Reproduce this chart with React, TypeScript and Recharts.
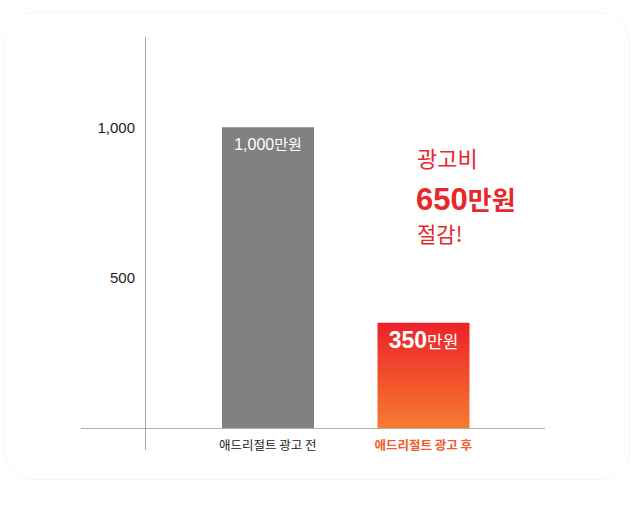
import React from 'react';
import { BarChart, Bar, XAxis, YAxis, Cell, LabelList } from 'recharts';

// 광고 전/후 비용 비교
const categories = ['애드리절트 광고 전', '애드리절트 광고 후'];
const costs = [1000, 350];
const valueLabels = ['1,000', '350'];
const yTicks = [500, 1000];
const savingLines = ['광고비', '650', '만원', '절감!'];

const data = categories.map((name, i) => ({ name, cost: costs[i], label: valueLabels[i] }));

const FONT = '"Liberation Sans", "Noto Sans CJK KR", sans-serif';
const KR = '"Noto Sans CJK KR", sans-serif';
const RED = '#e8262b';
const ORANGE = '#f15a2b';

const XTick = (props: any) => {
  const { x, y, payload, index } = props;
  const after = index === 1;
  return (
    <text
      x={x}
      y={y}
      dy={12}
      textAnchor="middle"
      fontFamily={KR}
      fontSize={12.5}
      fontWeight={after ? 700 : 400}
      fill={after ? ORANGE : '#222'}
    >
      {payload.value}
    </text>
  );
};

const BarValue = (props: any) => {
  const { x, y, width, index } = props;
  const cx = x + width / 2;
  if (index === 0) {
    return (
      <text x={cx} y={y + 23} textAnchor="middle" fontFamily={FONT} fill="#fff">
        <tspan fontSize={16}>{valueLabels[index]}</tspan>
        <tspan fontSize={15} fontFamily={KR}>만원</tspan>
      </text>
    );
  }
  return (
    <text x={cx} y={y + 25} textAnchor="middle" fontFamily={FONT} fill="#fff">
      <tspan fontSize={23} fontWeight={700}>{valueLabels[index]}</tspan>
      <tspan fontSize={17} fontFamily={KR}>만원</tspan>
    </text>
  );
};

export default function App() {
  return (
    <div style={{ position: 'absolute', left: 0, top: 0, width: 634, height: 527, background: '#fff' }}>
      <div
        style={{
          position: 'absolute',
          left: 4,
          top: 12,
          width: 624,
          height: 466,
          border: '1px solid #f7f7f7',
          borderRadius: 30,
        }}
      />
      <BarChart
        width={634}
        height={527}
        data={data}
        margin={{ top: 37, right: 89, bottom: 69, left: 0 }}
        style={{ position: 'absolute', left: 0, top: 0 }}
      >
        <defs>
          <linearGradient id="afterGrad" x1="0" y1="0" x2="0" y2="1">
            <stop offset="0%" stopColor="#ec2229" />
            <stop offset="100%" stopColor="#f47c30" />
          </linearGradient>
        </defs>
        <XAxis
          dataKey="name"
          axisLine={false}
          tickLine={false}
          height={30}
          tickMargin={4}
          padding={{ left: 45, right: 44 }}
          tick={<XTick />}
          interval={0}
        />
        <YAxis
          width={145}
          domain={[0, 1300]}
          ticks={yTicks}
          axisLine={false}
          tickLine={false}
          tickMargin={4}
          tickFormatter={(v: number) => v.toLocaleString('en-US')}
          tick={{ fontSize: 15, fill: '#222', fontFamily: FONT }}
        />
        <Bar dataKey="cost" barSize={92} isAnimationActive={false}>
          <Cell fill="#808180" />
          <Cell fill="url(#afterGrad)" />
          <LabelList dataKey="label" content={<BarValue />} />
        </Bar>
      </BarChart>
      <svg width={634} height={527} style={{ position: 'absolute', left: 0, top: 0, pointerEvents: 'none' }}>
        <line x1={145.5} y1={37} x2={145.5} y2={450} stroke="#a8a8a8" strokeWidth={1} />
        <line x1={81} y1={428.5} x2={545} y2={428.5} stroke="#b0b0b0" strokeWidth={1.2} />
        <text x={417} y={167} fontFamily={KR} fontSize={22} fill={RED}>
          {savingLines[0]}
        </text>
        <text x={416} y={210} fontFamily={FONT} fontWeight={700} fill={RED}>
          <tspan fontSize={31}>{savingLines[1]}</tspan>
          <tspan fontSize={26} fontFamily={KR}>{savingLines[2]}</tspan>
        </text>
        <text x={417} y={242} fontFamily={KR} fontSize={21} fill={RED}>
          {savingLines[3]}
        </text>
      </svg>
    </div>
  );
}
